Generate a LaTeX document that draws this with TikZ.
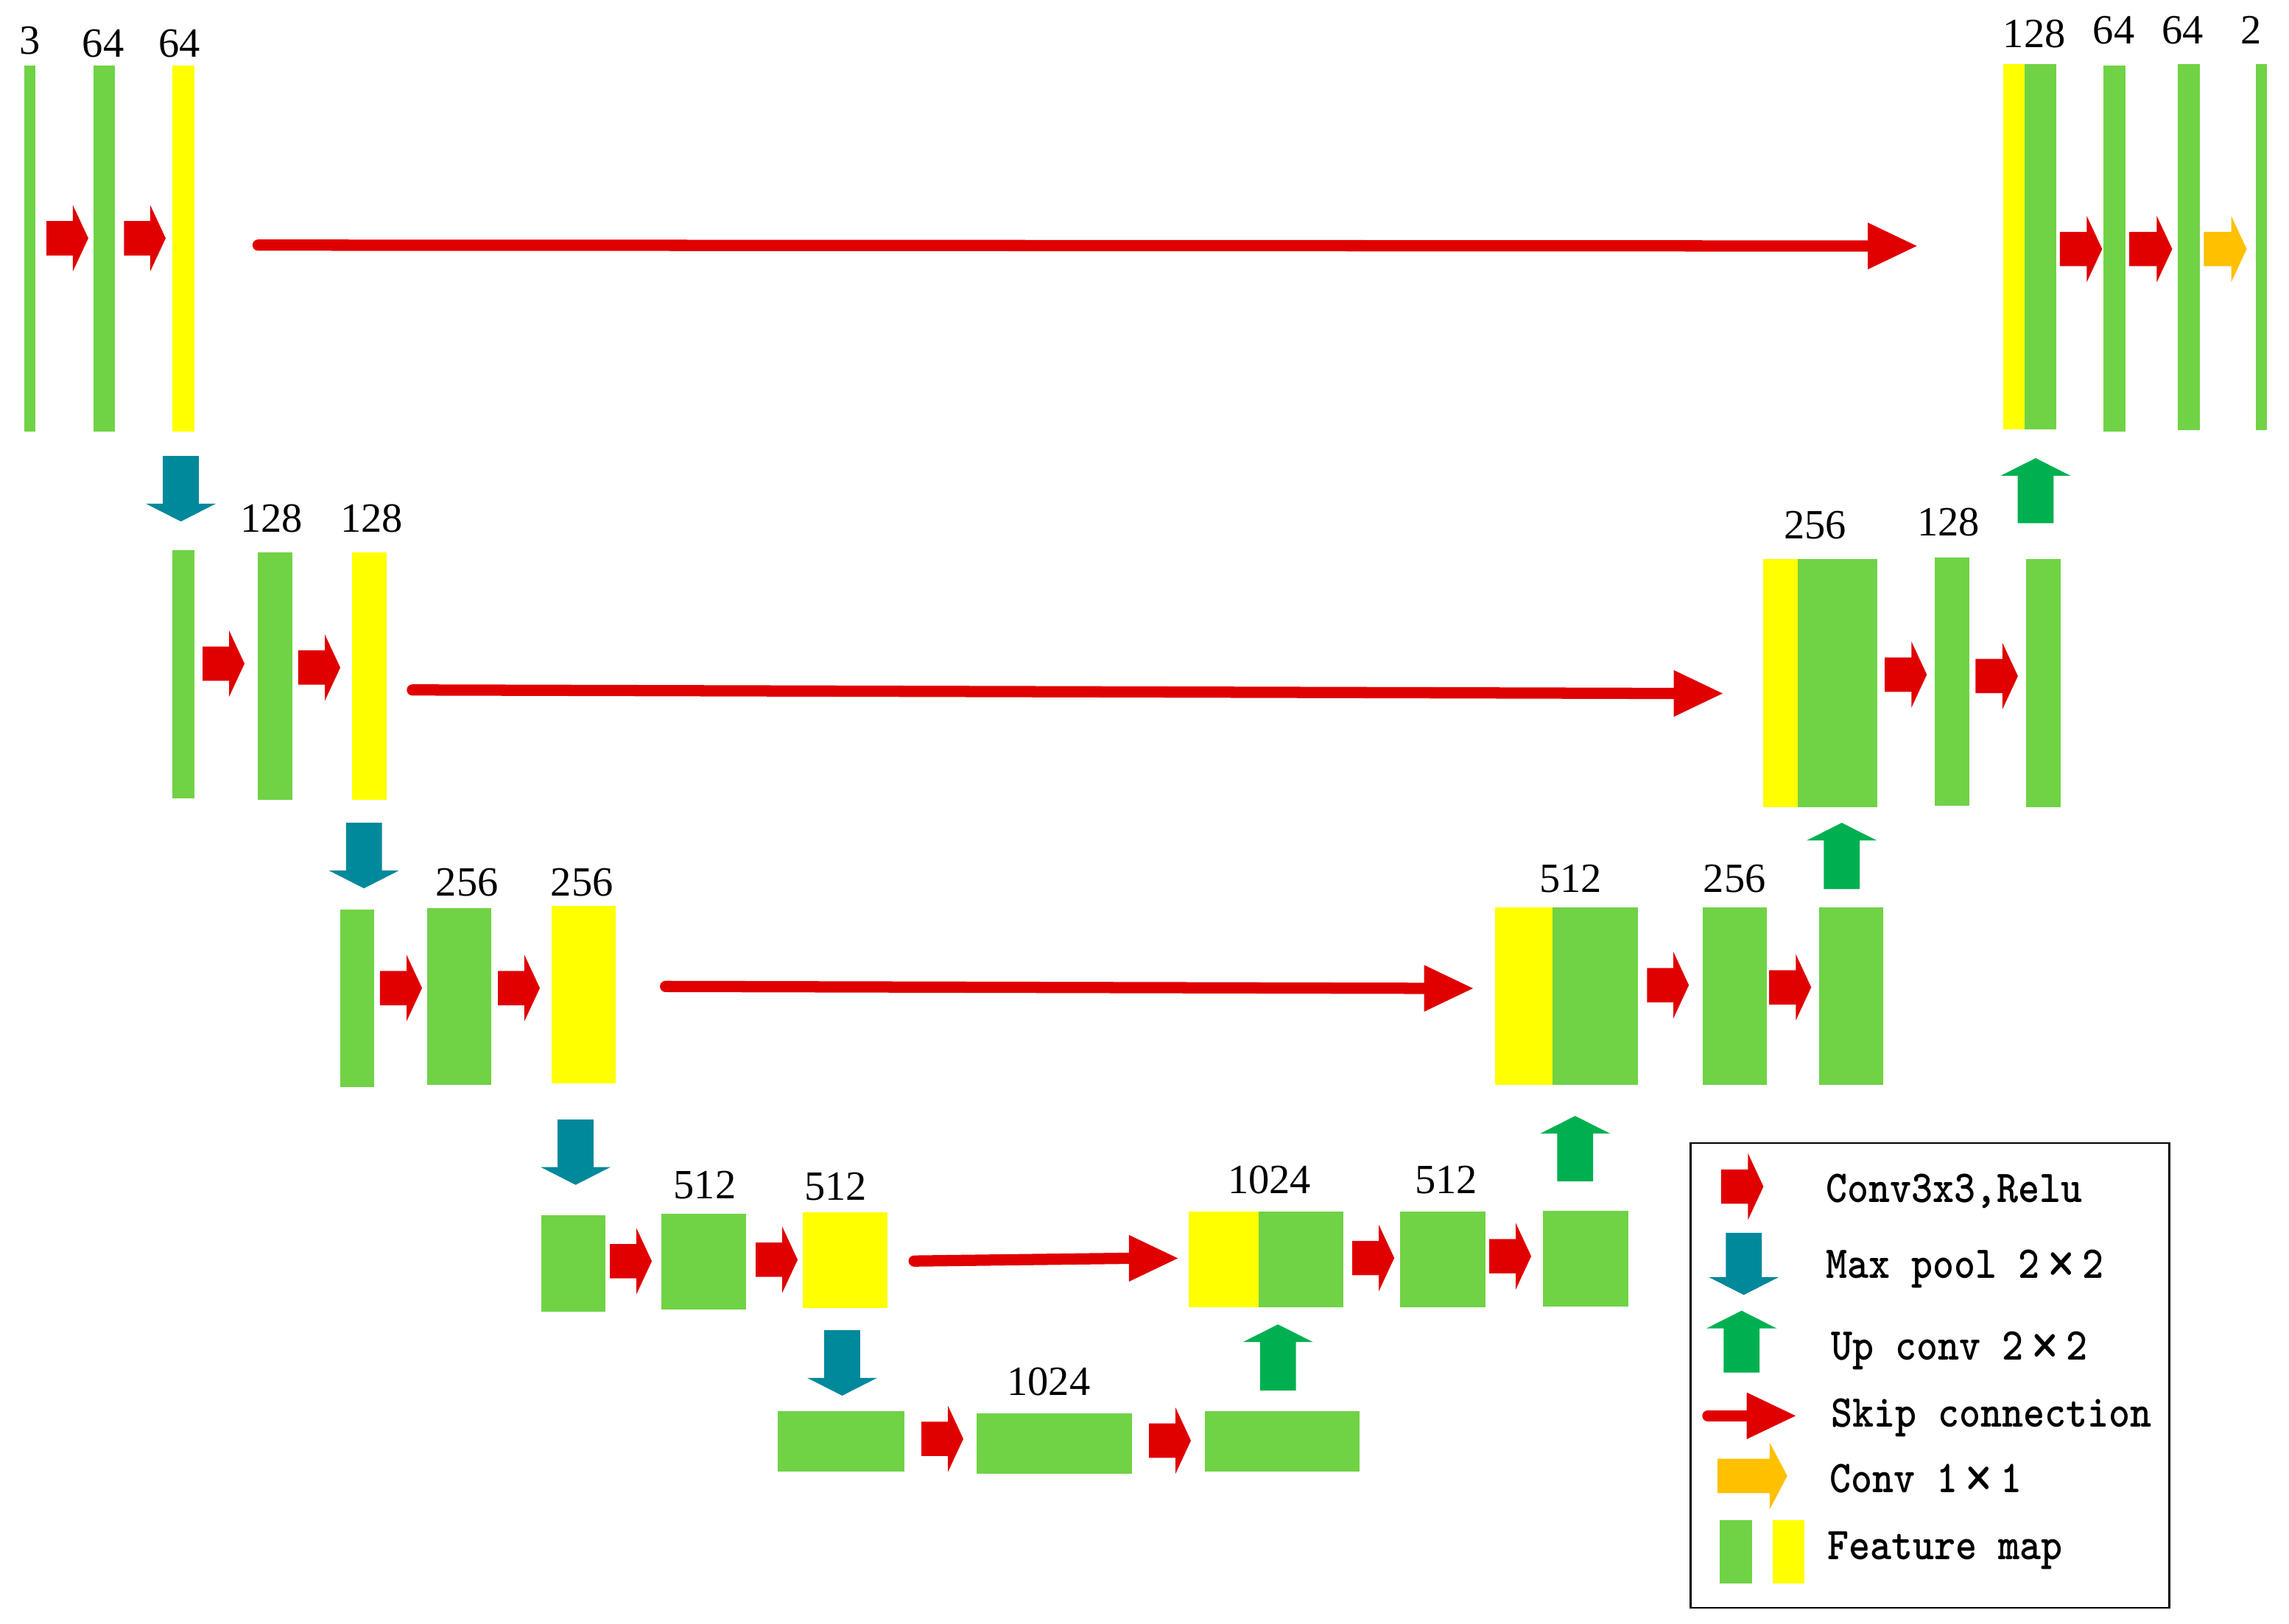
\documentclass[tikz,border=0pt]{standalone}
\usepackage{fontspec}
\usepackage{graphicx}
\setmainfont{Liberation Serif}
\usetikzlibrary{fit}
\definecolor{fgreen}{RGB}{112,210,69}
\definecolor{fyellow}{RGB}{255,255,0}
\definecolor{cred}{RGB}{224,0,0}
\definecolor{pteal}{RGB}{0,136,155}
\definecolor{ugreen}{RGB}{0,176,80}
\definecolor{corange}{RGB}{255,192,0}
% horizontal block arrow: x1, x2(tip), cy, head length, colour
\newcommand\hblock[5]{\fill[#5] (#1,{#3-11.75}) -- ({#2-#4},{#3-11.75}) -- ({#2-#4},{#3-22.75}) -- (#2,#3) -- ({#2-#4},{#3+22.75}) -- ({#2-#4},{#3+11.75}) -- (#1,{#3+11.75}) -- cycle;}
% down block arrow: cx, top, tip, colour
\newcommand\dnblock[4]{\fill[#4] ({#1-12.3},#2) -- ({#1+12.3},#2) -- ({#1+12.3},{#3-12.2}) -- ({#1+24},{#3-12.2}) -- (#1,#3) -- ({#1-24},{#3-12.2}) -- ({#1-12.3},{#3-12.2}) -- cycle;}
% up block arrow: cx, tip, bottom, colour
\newcommand\upblock[4]{\fill[#4] ({#1-12.3},#3) -- ({#1+12.3},#3) -- ({#1+12.3},{#2+12.1}) -- ({#1+24},{#2+12.1}) -- (#1,#2) -- ({#1-24},{#2+12.1}) -- ({#1-12.3},{#2+12.1}) -- cycle;}
% feature map node: name, x1, x2, y1, y2, colour
\newcommand\fmap[6]{\node[fbar, fill=#6, fit={(#2,#4) (#3,#5)}] (#1) {};}
% skip connection: name, x1, y1, tip x, tip y
\newcommand\skipconn[5]{%
  \coordinate (#1a) at (#2,#3);
  \coordinate (#1h) at ({#4-33.5},#5);
  \coordinate (#1b) at (#4,#5);
  \draw[skipline] (#1a) -- (#1h);
  \fill[cred] ([yshift=-16pt]#1h) -- (#1b) -- ([yshift=16pt]#1h) -- cycle;}
% large full-width multiplication sign for the legend
\newcommand\bigtimes{\makebox[1.05em]{\mdseries\raisebox{-0.15em}{\scalebox{1.5}{×}}}}
\begin{document}
\begin{tikzpicture}[x=1pt,y=-1pt,
  fbar/.style={inner sep=0pt, outer sep=0pt, draw=none},
  lab/.style={anchor=base, inner sep=0pt, font=\fontsize{28.5}{30}\selectfont},
  legtxt/.style={anchor=base west, inner sep=0pt, font=\ttfamily\bfseries\fontsize{27.9}{30}\selectfont},
  skipline/.style={draw=cred, line width=7.7pt, line cap=round}]
\useasboundingbox (0,0) rectangle (1568,1112);

% ---------- level 1 ----------
\fmap{a1}{16.6}{24.2}{44.9}{295.4}{fgreen}
\fmap{a2}{64.2}{78.9}{44.9}{295.4}{fgreen}
\fmap{a3}{118.3}{133.4}{44.9}{295.4}{fyellow}
\hblock{31.9}{60.5}{163.2}{10.6}{cred}
\hblock{84.9}{113.5}{163.2}{10.6}{cred}
\node[lab] (la1) at (20.3,36.9) {3};
\node[lab] (la2) at (70.7,39.1) {64};
\node[lab] (la3) at (123,39.1) {64};
\skipconn{s1}{176.8}{167.9}{1313}{168.5}
\fmap{a4}{1372}{1387}{44}{294}{fyellow}
\fmap{a5}{1387}{1408.6}{44}{294}{fgreen}
\fmap{a6}{1441}{1456}{45}{295.6}{fgreen}
\fmap{a7}{1492}{1507}{44}{294.5}{fgreen}
\fmap{a8}{1545.4}{1553}{44}{294.5}{fgreen}
\hblock{1411}{1440}{170.6}{10.6}{cred}
\hblock{1458.6}{1488}{170.6}{10.6}{cred}
\hblock{1509.6}{1539}{170.6}{10.6}{corange}
\node[lab] (la4) at (1393.5,32.7) {128};
\node[lab] (la5) at (1448,30) {64};
\node[lab] (la6) at (1495,30) {64};
\node[lab] (la7) at (1542,30) {2};
\upblock{1394.4}{313.8}{358.4}{ugreen}
\dnblock{123.9}{312.3}{357.2}{pteal}

% ---------- level 2 ----------
\fmap{b1}{118}{133.2}{376.9}{546.8}{fgreen}
\fmap{b2}{176.6}{200.3}{378.4}{547.8}{fgreen}
\fmap{b3}{241.2}{264.9}{378.4}{547.8}{fyellow}
\hblock{138.8}{167.5}{454.6}{10.6}{cred}
\hblock{204.3}{233.1}{457.3}{10.6}{cred}
\node[lab] (lb1) at (186,364.3) {128};
\node[lab] (lb2) at (254.5,364.3) {128};
\skipconn{s2}{282.5}{472.6}{1180}{475}
\fmap{b4}{1207.9}{1231.6}{383}{552.8}{fyellow}
\fmap{b5}{1231.6}{1286.1}{383}{552.8}{fgreen}
\fmap{b6}{1325.4}{1349.1}{381.9}{551.8}{fgreen}
\fmap{b7}{1388}{1411.7}{383}{552.8}{fgreen}
\hblock{1291.1}{1319.9}{462.1}{10.6}{cred}
\hblock{1353.2}{1382.3}{463.1}{10.6}{cred}
\node[lab] (lb3) at (1243.3,368.8) {256};
\node[lab] (lb4) at (1334.7,366.8) {128};
\dnblock{249.3}{563.6}{608.5}{pteal}
\upblock{1261.6}{563.6}{609}{ugreen}

% ---------- level 3 ----------
\fmap{c1}{233.1}{256.3}{623.1}{744.5}{fgreen}
\fmap{c2}{292.6}{336.5}{622.1}{743}{fgreen}
\fmap{c3}{377.9}{421.6}{620.6}{742}{fyellow}
\hblock{260.3}{289.1}{676.8}{10.6}{cred}
\hblock{341.1}{369.8}{676.8}{10.6}{cred}
\node[lab] (lc1) at (320,613.5) {256};
\node[lab] (lc2) at (398.7,613.5) {256};
\skipconn{s3}{455.9}{675.7}{1009}{677}
\fmap{c4}{1024}{1063.6}{621.6}{743}{fyellow}
\fmap{c5}{1063.6}{1122.1}{621.6}{743}{fgreen}
\fmap{c6}{1166.5}{1210.4}{621.6}{743}{fgreen}
\fmap{c7}{1246.2}{1290.1}{621.6}{743}{fgreen}
\hblock{1128.2}{1156.9}{674.8}{10.6}{cred}
\hblock{1211.9}{1240.7}{676.3}{10.6}{cred}
\node[lab] (lc3) at (1075.8,611) {512};
\node[lab] (lc4) at (1188.2,611) {256};
\dnblock{394.3}{766.9}{811.6}{pteal}
\upblock{1079}{764.4}{809.1}{ugreen}

% ---------- level 4 ----------
\fmap{d1}{370.8}{414.7}{832.5}{898.6}{fgreen}
\fmap{d2}{453.1}{511.1}{831.5}{896.9}{fgreen}
\fmap{d3}{549.9}{608}{830.5}{895.9}{fyellow}
\hblock{417.8}{446.5}{863.9}{10.6}{cred}
\hblock{517.7}{546.4}{862.9}{10.6}{cred}
\node[lab] (ld1) at (482.8,821) {512};
\node[lab] (ld2) at (572.4,822) {512};
\skipconn{s4}{626.2}{863.8}{806.8}{861.9}
\fmap{d4}{814.3}{862.3}{830}{895.6}{fyellow}
\fmap{d5}{862.3}{920.3}{830}{895.6}{fgreen}
\fmap{d6}{959.2}{1017.7}{830}{895.6}{fgreen}
\fmap{d7}{1057}{1115.5}{829.5}{895}{fgreen}
\hblock{926.3}{955.1}{861.7}{10.6}{cred}
\hblock{1020.2}{1048.9}{860.5}{10.6}{cred}
\node[lab] (ld3) at (869.6,817.4) {1024};
\node[lab] (ld4) at (990.7,817.4) {512};
\dnblock{576.9}{911.2}{956}{pteal}
\upblock{875.4}{907.2}{952.4}{ugreen}

% ---------- level 5 ----------
\fmap{e1}{532.8}{619.6}{966.7}{1008.1}{fgreen}
\fmap{e2}{669}{775.5}{968.2}{1009.6}{fgreen}
\fmap{e3}{825.4}{931.4}{966.7}{1008.1}{fgreen}
\hblock{631.2}{659.9}{985.6}{10.6}{cred}
\hblock{787.1}{815.8}{986.8}{10.6}{cred}
\node[lab] (le1) at (718.3,955.6) {1024};

% ---------- legend ----------
\node[draw=black, line width=1.2pt, inner sep=0pt, fit={(1158,783) (1486,1101.4)}] (legend) {};
\hblock{1179}{1208}{812.8}{10.6}{cred}
\dnblock{1194.5}{844.4}{887}{pteal}
\upblock{1193}{897.8}{940.2}{ugreen}
\skipconn{s5}{1169.9}{969.8}{1230}{969.8}
\hblock{1176.6}{1224.3}{1011}{12}{corange}
\fmap{g1}{1178}{1200.3}{1041.4}{1084.6}{fgreen}
\fmap{g2}{1214.4}{1235.8}{1041.4}{1084.6}{fyellow}
\node[legtxt] (t1) at (1250.5,823.4) {\scalebox{1}[1.12]{Conv3x3,Relu}};
\node[legtxt] (t2) at (1250.5,875.5) {\scalebox{1}[1.12]{Max pool 2\bigtimes2}};
\node[legtxt] (t3) at (1254,931.3) {\scalebox{1}[1.12]{Up conv 2\bigtimes2}};
\node[legtxt] (t4) at (1254,977.4) {\scalebox{1}[1.12]{Skip connection}};
\node[legtxt] (t5) at (1253,1022.3) {\scalebox{1}[1.12]{Conv 1\bigtimes1}};
\node[legtxt] (t6) at (1251.7,1068.5) {\scalebox{1}[1.12]{Feature map}};
\end{tikzpicture}
\end{document}
